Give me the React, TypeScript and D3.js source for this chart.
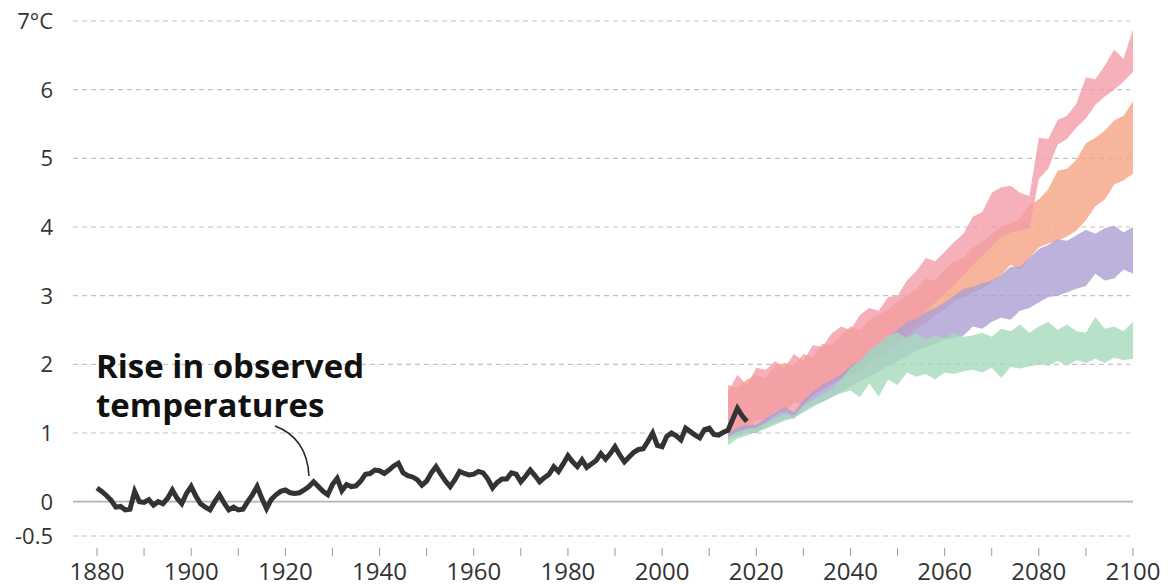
import React, { useEffect, useRef } from 'react'
import * as d3 from 'd3'

// observed annual anomaly, 1880 - 2018
const obsStart = 1880
const observed = [
  0.20, 0.15, 0.09, 0.02, -0.08, -0.07, -0.12, -0.11, 0.15, 0.00,
  -0.01, 0.03, -0.05, 0.00, -0.03, 0.05, 0.17, 0.05, -0.03, 0.12,
  0.22, 0.08, -0.03, -0.08, -0.12, 0.00, 0.10, -0.02, -0.12, -0.08,
  -0.12, -0.11, 0.00, 0.10, 0.22, 0.05, -0.10, 0.03, 0.10, 0.15,
  0.17, 0.13, 0.12, 0.13, 0.17, 0.22, 0.29, 0.22, 0.15, 0.10,
  0.25, 0.34, 0.16, 0.25, 0.22, 0.23, 0.30, 0.40, 0.41, 0.46,
  0.45, 0.41, 0.46, 0.52, 0.56, 0.42, 0.38, 0.36, 0.32, 0.24,
  0.30, 0.42, 0.51, 0.40, 0.30, 0.22, 0.32, 0.44, 0.41, 0.39,
  0.40, 0.44, 0.42, 0.33, 0.20, 0.28, 0.33, 0.33, 0.42, 0.40,
  0.29, 0.37, 0.46, 0.38, 0.29, 0.35, 0.40, 0.51, 0.44, 0.55,
  0.67, 0.58, 0.51, 0.61, 0.50, 0.55, 0.60, 0.70, 0.62, 0.70,
  0.80, 0.68, 0.58, 0.65, 0.72, 0.76, 0.77, 0.88, 1.00, 0.82,
  0.80, 0.95, 1.00, 0.96, 0.90, 1.07, 1.02, 0.97, 0.93, 1.05,
  1.07, 0.98, 0.97, 1.01, 1.04, 1.20, 1.36, 1.25, 1.17
]

// projections, every two years 2014 - 2100
const projYears = d3.range(2014, 2101, 2)
const pinkHi = [1.60, 1.85, 1.70, 1.95, 1.92, 2.05, 1.95, 2.15, 2.05, 2.28, 2.25, 2.45, 2.55, 2.50, 2.72, 2.82, 2.78, 2.98, 3.00, 3.22, 3.36, 3.55, 3.50, 3.64, 3.78, 3.90, 4.15, 4.22, 4.50, 4.58, 4.60, 4.50, 4.45, 5.30, 5.28, 5.56, 5.62, 5.80, 6.18, 6.15, 6.35, 6.58, 6.45, 6.88]
const pinkLo = [0.90, 1.00, 1.05, 1.05, 1.15, 1.25, 1.35, 1.20, 1.42, 1.55, 1.65, 1.70, 1.80, 1.85, 1.95, 2.05, 2.15, 2.25, 2.35, 2.50, 2.62, 2.78, 2.90, 3.02, 3.15, 3.30, 3.45, 3.58, 3.72, 3.85, 3.92, 3.95, 3.98, 4.70, 4.85, 5.20, 5.28, 5.45, 5.58, 5.78, 5.90, 6.00, 6.12, 6.26]
const orangeHi = [1.70, 1.65, 1.78, 1.85, 1.80, 1.98, 2.02, 1.98, 2.15, 2.10, 2.30, 2.28, 2.42, 2.55, 2.50, 2.65, 2.72, 2.80, 2.92, 3.00, 3.10, 3.25, 3.22, 3.38, 3.50, 3.55, 3.70, 3.78, 3.90, 4.00, 4.05, 4.12, 4.32, 4.40, 4.55, 4.82, 4.85, 4.98, 5.22, 5.30, 5.40, 5.55, 5.62, 5.83]
const orangeLo = [1.00, 1.08, 1.10, 1.18, 1.20, 1.32, 1.30, 1.45, 1.40, 1.55, 1.62, 1.72, 1.78, 1.85, 1.92, 2.02, 2.10, 2.20, 2.28, 2.40, 2.52, 2.60, 2.72, 2.80, 2.92, 2.98, 3.05, 3.10, 3.20, 3.30, 3.45, 3.38, 3.55, 3.70, 3.76, 3.80, 3.86, 3.95, 4.10, 4.30, 4.40, 4.62, 4.68, 4.78]
const purpleHi = [1.00, 1.08, 1.12, 1.12, 1.22, 1.30, 1.38, 1.30, 1.48, 1.60, 1.70, 1.78, 1.85, 1.98, 2.05, 2.20, 2.30, 2.40, 2.50, 2.62, 2.66, 2.76, 2.82, 2.90, 3.00, 3.10, 3.13, 3.18, 3.22, 3.30, 3.42, 3.42, 3.55, 3.68, 3.74, 3.82, 3.80, 3.88, 3.96, 3.90, 3.98, 4.02, 3.92, 4.00]
const purpleLo = [0.90, 0.95, 1.00, 1.00, 1.08, 1.15, 1.20, 1.22, 1.32, 1.40, 1.45, 1.52, 1.60, 1.68, 1.75, 1.82, 1.90, 1.98, 2.05, 2.12, 2.20, 2.25, 2.30, 2.36, 2.38, 2.42, 2.55, 2.52, 2.62, 2.68, 2.65, 2.78, 2.82, 2.90, 2.98, 3.00, 3.05, 3.10, 3.14, 3.32, 3.22, 3.25, 3.38, 3.32]
const greenHi = [0.95, 1.02, 1.06, 1.08, 1.15, 1.22, 1.28, 1.26, 1.40, 1.48, 1.56, 1.64, 1.78, 1.95, 2.05, 2.20, 2.30, 2.42, 2.46, 2.38, 2.45, 2.36, 2.42, 2.38, 2.46, 2.40, 2.42, 2.46, 2.40, 2.52, 2.48, 2.58, 2.46, 2.55, 2.62, 2.50, 2.58, 2.48, 2.46, 2.69, 2.52, 2.55, 2.48, 2.62]
const greenLo = [0.82, 0.92, 0.96, 1.02, 1.06, 1.12, 1.18, 1.22, 1.30, 1.38, 1.46, 1.52, 1.58, 1.62, 1.52, 1.72, 1.53, 1.78, 1.70, 1.88, 1.82, 1.86, 1.78, 1.88, 1.86, 1.90, 1.92, 1.88, 1.95, 1.80, 1.96, 1.94, 1.97, 2.00, 1.98, 2.05, 1.98, 2.06, 2.02, 2.08, 2.02, 2.10, 2.06, 2.08]

const yTicks = [-0.5, 0, 1, 2, 3, 4, 5, 6, 7]
const xLabels = [1880, 1900, 1920, 1940, 1960, 1980, 2000, 2020, 2040, 2060, 2080, 2100]

// drawn bottom to top
const bands = [
  { hi: orangeHi, lo: orangeLo, color: '#f5a283' },
  { hi: pinkHi, lo: pinkLo, color: '#f29ca7' },
  { hi: purpleHi, lo: purpleLo, color: '#ad9fd2' },
  { hi: greenHi, lo: greenLo, color: '#a6d9bb' },
]

const App = () => {
  const ref = useRef<SVGSVGElement>(null)

  useEffect(() => {
    const svg = d3.select(ref.current)
    svg.selectAll('*').remove()
    const font = '"Open Sans", "Noto Sans", sans-serif'

    const x = d3.scaleLinear().domain([1880, 2100]).range([97, 1133])
    const y = d3.scaleLinear().domain([-0.5, 7]).range([536, 21])

    // grid
    svg.append('g')
      .selectAll('line')
      .data(yTicks)
      .enter()
      .append('line')
        .attr('x1', 73)
        .attr('x2', d => d === 0 ? x(2100) : 1130)
        .attr('y1', d => y(d))
        .attr('y2', d => y(d))
        .attr('stroke', d => d === 0 ? '#b4b4b4' : '#c2c2c2')
        .attr('stroke-width', d => d === 0 ? 1.6 : 1.2)
        .attr('stroke-dasharray', d => d === 0 ? null : '5,4')

    svg.append('g')
      .selectAll('text')
      .data(yTicks)
      .enter()
      .append('text')
        .attr('x', 53)
        .attr('y', d => y(d))
        .attr('dy', '0.36em')
        .attr('text-anchor', 'end')
        .attr('font-family', font)
        .attr('font-size', 22)
        .attr('fill', '#333')
        .text(d => d === 7 ? '7°C' : String(d))

    // x ticks
    svg.append('g')
      .selectAll('line')
      .data(d3.range(1880, 2101, 10))
      .enter()
      .append('line')
        .attr('x1', d => x(d))
        .attr('x2', d => x(d))
        .attr('y1', 548)
        .attr('y2', 556)
        .attr('stroke', '#999')
        .attr('stroke-width', 1)

    svg.append('g')
      .selectAll('text')
      .data(xLabels)
      .enter()
      .append('text')
        .attr('x', d => x(d))
        .attr('y', 580)
        .attr('text-anchor', 'middle')
        .attr('font-family', font)
        .attr('font-size', 24)
        .attr('fill', '#333')
        .text(d => String(d))

    // projection bands
    const area = d3.area<number>()
      .x((d, i) => x(projYears[i]))
    bands.forEach(b => {
      svg.append('path')
        .datum(b.hi)
        .attr('d', area.y0((d, i) => y(b.lo[i])).y1(d => y(d)))
        .attr('fill', b.color)
        .attr('fill-opacity', 0.8)
    })

    // observed
    const line = d3.line<number>()
      .x((d, i) => x(obsStart + i))
      .y(d => y(d))
    svg.append('path')
      .datum(observed)
      .attr('d', line)
      .attr('fill', 'none')
      .attr('stroke', '#333')
      .attr('stroke-width', 5)

    // annotation
    const noteLines = [['Rise in observed', 378], ['temperatures', 417]]
    svg.append('g')
      .selectAll('text')
      .data(noteLines)
      .enter()
      .append('text')
        .attr('x', 96)
        .attr('y', d => d[1])
        .attr('font-family', font)
        .attr('font-size', 33)
        .attr('font-weight', 700)
        .attr('fill', '#111')
        .text(d => d[0])

    svg.append('path')
      .attr('d', 'M275,426 Q307,438 309,476')
      .attr('fill', 'none')
      .attr('stroke', '#222')
      .attr('stroke-width', 1.5)
  }, [])

  return (
    <svg ref={ref} width={1169} height={586}
      style={{ position: 'absolute', left: 0, top: 0, background: '#fff' }} />
  )
}

export default App
